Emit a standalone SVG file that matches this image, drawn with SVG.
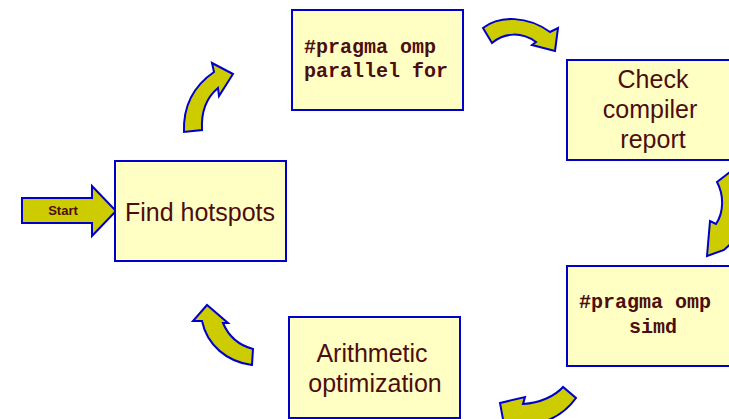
<svg xmlns="http://www.w3.org/2000/svg" width="729" height="419" viewBox="0 0 729 419">
<style>
.box{fill:#ffffc4;stroke:#0000cc;stroke-width:2}
.arr{fill:#cccc00;stroke:#0000cc;stroke-width:2;stroke-linejoin:miter}
.t{font-family:"Liberation Sans",Arial,sans-serif;font-size:25px;fill:#4d0d0d;text-anchor:middle}
.m{font-family:"Liberation Mono","Courier New",monospace;font-size:20px;font-weight:bold;fill:#4d0d0d}
.s{font-family:"Liberation Sans",Arial,sans-serif;font-size:13px;font-weight:bold;fill:#4d0d0d;text-anchor:middle}
</style>
<rect width="729" height="419" fill="#ffffff"/>
<g id="connectors">
<path class="arr" d="M184,132 C183,105 195,85 214,72 L212,63 L233,74 L219,96 L218,88 C206,98 201,112 202,130 Z"/>
<path class="arr" d="M483,28 C500,15 528,16 550,32 L558,28 L555,51 L532,45 L536,42 C522,32 505,32 492,43 Z"/>
<path class="arr" d="M717,182 C724,195 724,212 716,224 L710,221 L707,256 L724,250 L740,235 L745,170 L730,172 Z"/>
<path class="arr" d="M563,387 C555,396 540,403 523,404 L525,397 L500,403 L505,430 L530,425 C550,422 566,412 576,398 Z"/>
<path class="arr" d="M253,349 C238,345 228,335 223,323 L228,323 L207,305 L193,321 L202,321 C207,345 227,362 252,365 Z"/>
</g>
<g id="start">
<path class="arr" d="M22,198 L92,198 L92,186 L116,211 L92,236 L92,223 L22,223 Z"/>
<text class="s" x="63" y="215">Start</text>
</g>
<g id="find-hotspots">
<rect class="box" x="115" y="161" width="171" height="100"/>
<text class="t" x="200" y="221">Find hotspots</text>
</g>
<g id="pragma-parallel">
<rect class="box" x="292" y="10" width="171" height="100"/>
<text class="m" x="304" y="53">#pragma omp</text>
<text class="m" x="304" y="77">parallel for</text>
</g>
<g id="check-compiler">
<rect class="box" x="567" y="60" width="172" height="100"/>
<text class="t" x="653" y="88">Check</text>
<text class="t" x="650" y="118">compiler</text>
<text class="t" x="653" y="148">report</text>
</g>
<g id="pragma-simd">
<rect class="box" x="567" y="266" width="172" height="100"/>
<text class="m" x="579" y="308">#pragma omp</text>
<text class="m" x="653" y="333" text-anchor="middle">simd</text>
</g>
<g id="arithmetic">
<rect class="box" x="289" y="317" width="171" height="101"/>
<text class="t" x="372" y="362">Arithmetic</text>
<text class="t" x="375" y="392">optimization</text>
</g>
</svg>
